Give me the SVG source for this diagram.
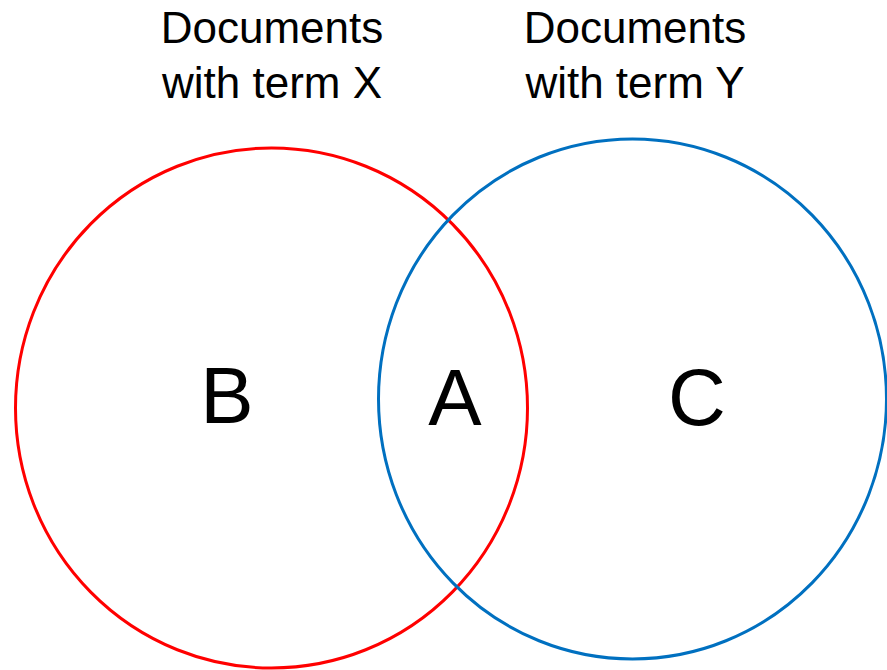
<svg xmlns="http://www.w3.org/2000/svg" width="887" height="670" viewBox="0 0 887 670">
<style>
.t{font-family:"Liberation Sans",Arial,sans-serif;font-size:44px;fill:#000;text-anchor:middle}
.big{font-family:"Liberation Sans",Arial,sans-serif;font-size:80px;fill:#000;text-anchor:middle}
</style>
<rect width="887" height="670" fill="#fff"/>
<g id="setX">
<ellipse cx="271.5" cy="408" rx="256" ry="260" fill="none" stroke="#ff0000" stroke-width="3"/>
<text class="t" x="272" y="43">Documents</text>
<text class="t" x="272" y="98">with term X</text>
</g>
<g id="setY">
<ellipse cx="632.5" cy="399" rx="254" ry="260" fill="none" stroke="#0070c0" stroke-width="3"/>
<text class="t" x="635" y="43">Documents</text>
<text class="t" x="635" y="98">with term Y</text>
</g>
<g id="labels">
<text class="big" x="227" y="423">B</text>
<text class="big" x="455" y="425">A</text>
<text class="big" x="697" y="425">C</text>
</g>
<g id="connectors"/>
</svg>
